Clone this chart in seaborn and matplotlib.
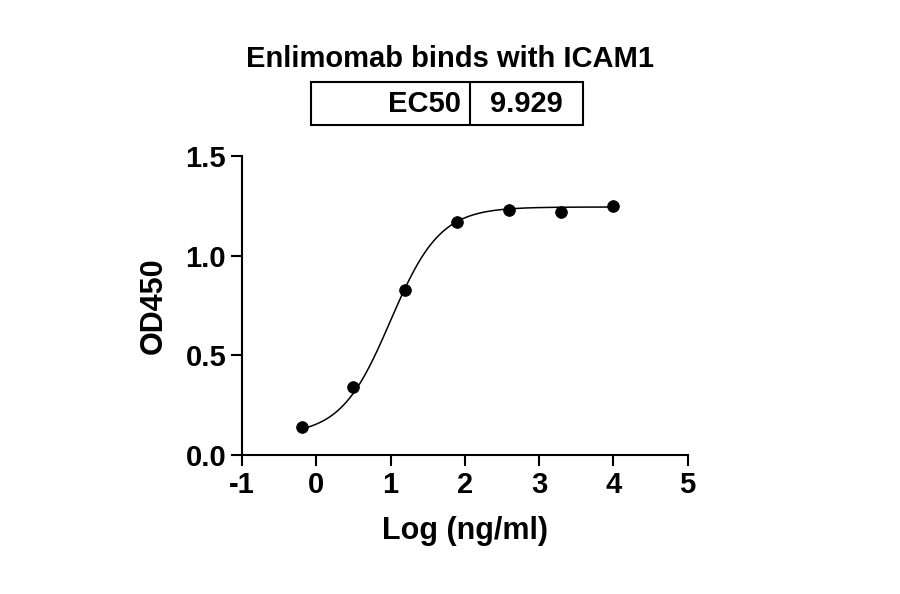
import numpy as np
import matplotlib
matplotlib.use("Agg")
import matplotlib.pyplot as plt
import seaborn as sns
from matplotlib.patches import Rectangle

log_conc = [-0.19, 0.5, 1.2, 1.9, 2.6, 3.3, 4.0]
od450 = [0.14, 0.34, 0.83, 1.17, 1.23, 1.22, 1.25]
ec50 = 9.929
bottom, top, hill = 0.10, 1.245, 1.3

sns.set_theme(style="ticks")
plt.rcParams['font.family'] = ['Liberation Sans', 'DejaVu Sans']
plt.rcParams['font.weight'] = 'bold'
plt.rcParams['text.color'] = 'black'
plt.rcParams['axes.labelcolor'] = 'black'
plt.rcParams['axes.unicode_minus'] = False

fig = plt.figure(figsize=(9, 5.94), dpi=100)
ax = fig.add_axes([0.269, 0.234, 0.495, 0.503])

xc = np.linspace(min(log_conc), max(log_conc), 300)
yc = bottom + (top - bottom) / (1 + 10 ** ((np.log10(ec50) - xc) * hill))
sns.lineplot(x=xc, y=yc, ax=ax, color='black', lw=1.1)
sns.scatterplot(x=log_conc, y=od450, ax=ax, color='black', s=70, edgecolor='black', zorder=3)

ax.set_xlim(-1, 5)
ax.set_ylim(0, 1.5)
ax.set_xticks(range(-1, 6))
ax.set_yticks([0, 0.5, 1.0, 1.5])
ax.set_yticklabels(['0.0', '0.5', '1.0', '1.5'])
for s in ['top', 'right']:
    ax.spines[s].set_visible(False)
for s in ['left', 'bottom']:
    ax.spines[s].set_linewidth(1.5)
    ax.spines[s].set_color('black')
ax.tick_params(width=1.5, length=8, labelsize=21, colors='black', direction='out')
ax.set_xlabel('Log (ng/ml)', fontsize=22, fontweight='bold', labelpad=12)
ax.set_ylabel('OD450', fontsize=22, fontweight='bold', labelpad=12)

fig.text(0.5, 0.9, 'Enlimomab binds with ICAM1', ha='center', va='center', fontsize=21, fontweight='bold')
x0, x1, xm = 311/900, 583/900, 470/900
y0, y1 = 1 - 125/594, 1 - 82/594
fig.patches.append(Rectangle((x0, y0), x1 - x0, y1 - y0, transform=fig.transFigure, fill=False, lw=1.5, ec='black'))
fig.add_artist(plt.Line2D([xm, xm], [y0, y1], transform=fig.transFigure, color='black', lw=1.5))
fig.text(xm - 0.01, (y0 + y1) / 2, 'EC50', ha='right', va='center', fontsize=21, fontweight='bold')
fig.text((xm + x1) / 2, (y0 + y1) / 2, f'{ec50}', ha='center', va='center', fontsize=21, fontweight='bold')

fig.savefig('out.png', dpi=100)
